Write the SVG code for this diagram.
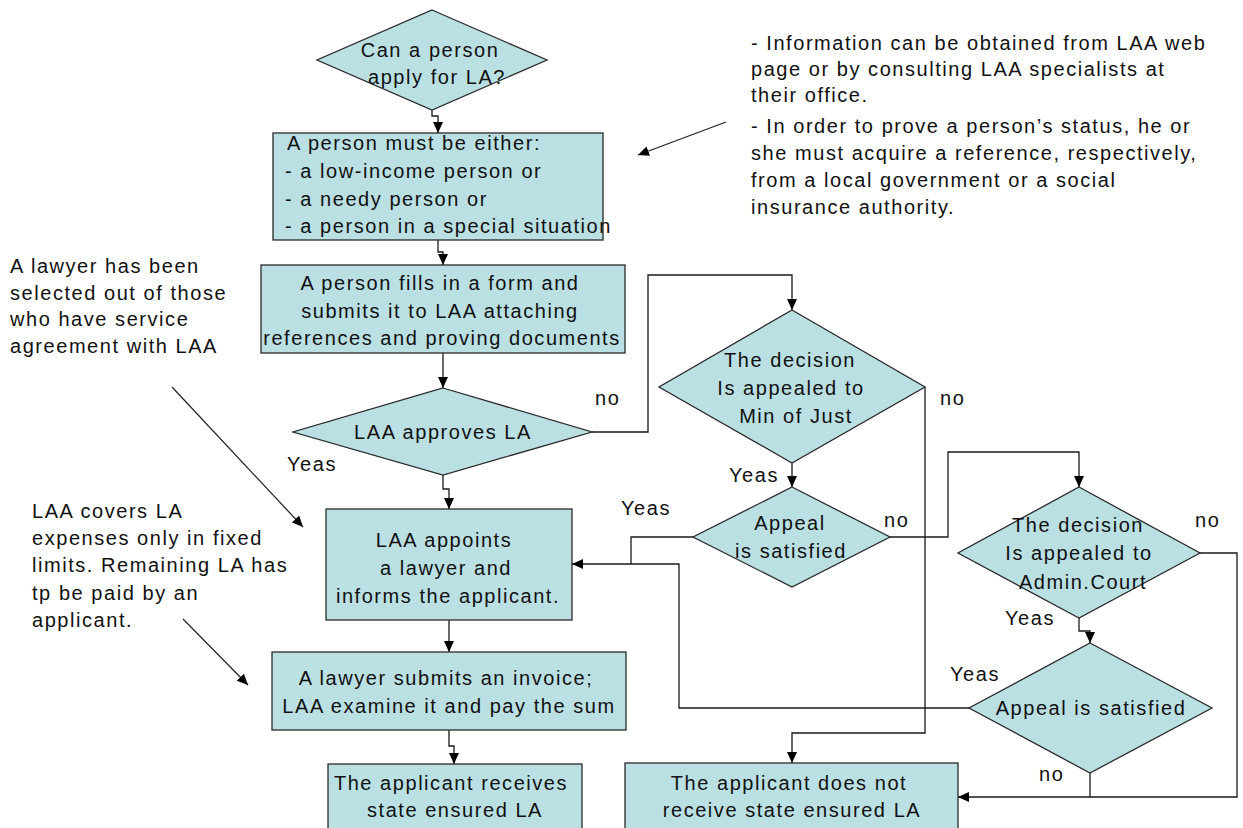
<svg xmlns="http://www.w3.org/2000/svg" width="1243" height="828" viewBox="0 0 1243 828">
<style>
.n{fill:#bbe0e3;stroke:#2a2a2a;stroke-width:1.3}
.t{font-family:"Liberation Sans",Arial,sans-serif;font-size:20px;letter-spacing:1.55px;fill:#111}
.c{text-anchor:middle}
.l{fill:none;stroke:#1a1a1a;stroke-width:1.3}
.a{fill:none;stroke:#222;stroke-width:1.2}
</style>
<defs>
<marker id="ah" markerUnits="userSpaceOnUse" markerWidth="12" markerHeight="11" refX="11" refY="5" orient="auto">
<path d="M0,0 L11,5 L0,10 z" fill="#000"/>
</marker>
</defs>
<rect width="1243" height="828" fill="#fff"/>
<g id="connectors">
<path class="l" d="M432,110 V116 H438 V133" marker-end="url(#ah)"/>
<path class="l" d="M438,240 V252 H443 V265" marker-end="url(#ah)"/>
<path class="l" d="M443,353 V388" marker-end="url(#ah)"/>
<path class="l" d="M592,432 H648 V275 H792 V310" marker-end="url(#ah)"/>
<path class="l" d="M443,475 V489 H449 V509" marker-end="url(#ah)"/>
<path class="l" d="M792,463 V487" marker-end="url(#ah)"/>
<path class="l" d="M925,387 V733 H792 V763" marker-end="url(#ah)"/>
<path class="l" d="M693,537 H631 V564"/>
<path class="l" d="M969,708 H679 V564 H572" marker-end="url(#ah)"/>
<path class="l" d="M890,537 H948 V452 H1079 V487" marker-end="url(#ah)"/>
<path class="l" d="M1079,618 V631 H1090 V643" marker-end="url(#ah)"/>
<path class="l" d="M1090,773 V797"/>
<path class="l" d="M1200,553 H1237 V797 H958" marker-end="url(#ah)"/>
<path class="l" d="M449,620 V652" marker-end="url(#ah)"/>
<path class="l" d="M449,730 V746 H454 V764" marker-end="url(#ah)"/>
<path class="a" d="M726,122 L638,155" marker-end="url(#ah)"/>
<path class="a" d="M172,387 L303,527" marker-end="url(#ah)"/>
<path class="a" d="M183,619 L248,685" marker-end="url(#ah)"/>
</g>
<g id="q-can-apply">
<path class="n" d="M432,10 L547,60 L432,110 L317,60 Z"/>
<text class="t c" x="430" y="57">Can a person</text>
<text class="t c" x="437" y="84">apply for LA?</text>
</g>
<g id="b-must-be">
<rect class="n" x="273" y="133" width="330" height="107"/>
<text class="t" x="287" y="150">A person must be either:</text>
<text class="t" x="285" y="178">- a low-income person or</text>
<text class="t" x="285" y="206">- a needy person or</text>
<text class="t" x="285" y="233">- a person in a special situation</text>
</g>
<g id="b-fills-form">
<rect class="n" x="261" y="265" width="364" height="88"/>
<text class="t c" x="440" y="290">A person fills in a form and</text>
<text class="t c" x="440" y="318">submits it to LAA attaching</text>
<text class="t c" x="442" y="345">references and proving documents</text>
</g>
<g id="q-approves">
<path class="n" d="M443,388 L592,432 L443,475 L293,432 Z"/>
<text class="t c" x="443" y="439">LAA approves LA</text>
</g>
<g id="q-min-just">
<path class="n" d="M792,310 L925,387 L792,463 L659,387 Z"/>
<text class="t c" x="790" y="367">The decision</text>
<text class="t c" x="791" y="395">Is appealed to</text>
<text class="t c" x="796" y="423">Min of Just</text>
</g>
<g id="q-appeal-1">
<path class="n" d="M792,487 L890,537 L792,587 L693,537 Z"/>
<text class="t c" x="790" y="530">Appeal</text>
<text class="t c" x="791" y="558">is satisfied</text>
</g>
<g id="q-admin-court">
<path class="n" d="M1079,487 L1200,553 L1079,618 L958,553 Z"/>
<text class="t c" x="1078" y="532">The decision</text>
<text class="t c" x="1079" y="560">Is appealed to</text>
<text class="t c" x="1083" y="589">Admin.Court</text>
</g>
<g id="q-appeal-2">
<path class="n" d="M1090,643 L1212,708 L1090,773 L969,708 Z"/>
<text class="t c" x="1091" y="715">Appeal is satisfied</text>
</g>
<g id="b-appoints">
<rect class="n" x="326" y="509" width="246" height="111"/>
<text class="t c" x="444" y="547">LAA appoints</text>
<text class="t c" x="446" y="575">a lawyer and</text>
<text class="t c" x="448" y="603">informs the applicant.</text>
</g>
<g id="b-invoice">
<rect class="n" x="272" y="652" width="354" height="78"/>
<text class="t c" x="446" y="685">A lawyer submits an invoice;</text>
<text class="t c" x="449" y="713">LAA examine it and pay the sum</text>
</g>
<g id="b-receives">
<rect class="n" x="328" y="764" width="254" height="80"/>
<text class="t c" x="451" y="790">The applicant receives</text>
<text class="t c" x="455" y="817">state ensured LA</text>
</g>
<g id="b-not-receive">
<rect class="n" x="625" y="763" width="333" height="80"/>
<text class="t c" x="789" y="790">The applicant does not</text>
<text class="t c" x="792" y="817">receive state ensured LA</text>
</g>
<g id="labels">
<text class="t" x="595" y="405">no</text>
<text class="t" x="287" y="471">Yeas</text>
<text class="t" x="940" y="405">no</text>
<text class="t" x="729" y="482">Yeas</text>
<text class="t" x="621" y="515">Yeas</text>
<text class="t" x="884" y="527">no</text>
<text class="t" x="1195" y="527">no</text>
<text class="t" x="1005" y="625">Yeas</text>
<text class="t" x="950" y="681">Yeas</text>
<text class="t" x="1039" y="781">no</text>
</g>
<g id="note-info">
<text class="t" x="751" y="50">- Information can be obtained from LAA web</text>
<text class="t" x="751" y="76">page or by consulting LAA specialists at</text>
<text class="t" x="751" y="102">their office.</text>
<text class="t" x="751" y="133">- In order to prove a person’s status, he or</text>
<text class="t" x="751" y="160">she must acquire a reference, respectively,</text>
<text class="t" x="751" y="187">from a local government or a social</text>
<text class="t" x="751" y="214">insurance authority.</text>
</g>
<g id="note-lawyer">
<text class="t" x="10" y="273">A lawyer has been</text>
<text class="t" x="10" y="300">selected out of those</text>
<text class="t" x="10" y="326">who have service</text>
<text class="t" x="10" y="353">agreement with LAA</text>
</g>
<g id="note-limits">
<text class="t" x="32" y="518">LAA covers LA</text>
<text class="t" x="32" y="545">expenses only in fixed</text>
<text class="t" x="32" y="572">limits. Remaining LA has</text>
<text class="t" x="32" y="600">tp be paid by an</text>
<text class="t" x="32" y="627">applicant.</text>
</g>
</svg>
